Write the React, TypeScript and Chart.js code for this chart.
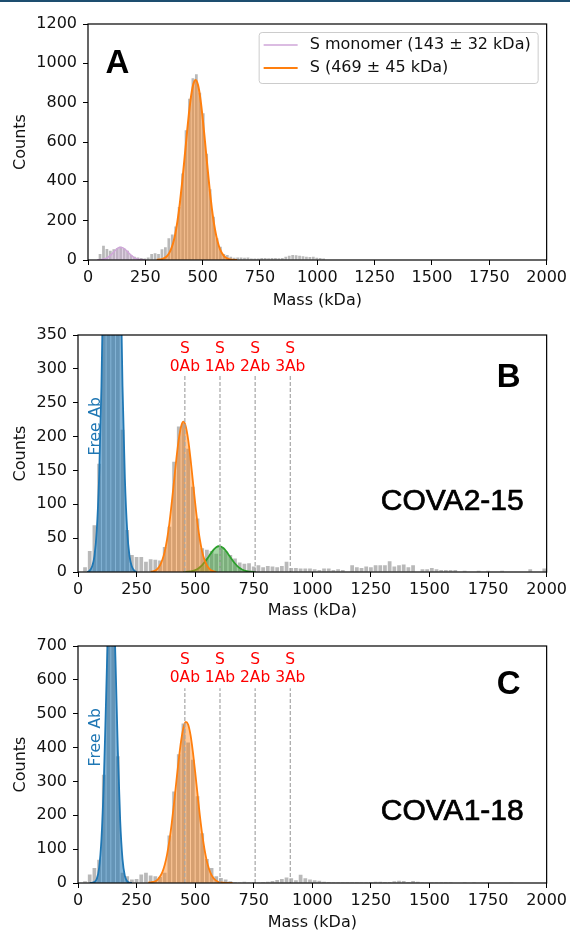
import React, { useEffect, useRef } from "react";
import { Chart, registerables } from "chart.js";

Chart.register(...registerables);

// ---------------- data ----------------
const massMin = 0;
const massMax = 2000;
const massTickStep = 250;

// Panel A : histogram, 15 kDa bins (first bin centre 7.5 kDa)
const binStartA = 7.5;
const binWidthA = 15;
const countsA = [
  0, 0, 0, 30, 73, 56, 47, 55, 60, 68, 58, 47, 25, 17, 13, 10, 8, 13, 30, 34,
  30, 55, 65, 110, 130, 170, 270, 440, 660, 820, 924, 944, 850, 746, 540, 360, 220, 110, 68, 30,
  25, 17, 12, 13, 13, 12, 13, 8, 7, 8, 10, 10, 9, 10, 10, 9, 10, 17, 22, 25,
  24, 22, 19, 17, 15, 17, 12, 10, 7, 3, 0, 0, 0, 0, 0, 0, 0, 0, 0, 0,
  0, 3, 0, 0, 0, 0, 0, 0, 0, 0, 0, 3, 0, 0, 0, 0, 3,
];
// Panel A fits (10 kDa sampling)
const monomerFitStartA = 40;
const monomerFitA = [0, 1, 2, 5, 9, 17, 26, 38, 50, 60, 65, 63, 56, 46, 33, 22, 13, 7, 4, 2, 1, 0];
const trimerFitStartA = 300;
const trimerFitA = [
  1, 2, 4, 8, 15, 28, 49, 81, 129, 196, 283, 388, 506, 628, 743, 837, 897, 915, 888, 821,
  722, 604, 482, 365, 263, 181, 119, 74, 44, 25, 13, 7, 3, 1, 0.5, 0,
];
const legendLabelsA = ["S monomer (143 \u00b1 32 kDa)", "S (469 \u00b1 45 kDa)"];

// Panel B : histogram, 20 kDa bins (first bin centre 10 kDa)
const binStartB = 10;
const binWidthB = 20;
const countsB = [
  0, 7, 31, 69, 160, 520, 1000, 1080, 760, 210, 62, 25, 22, 22, 15, 19, 18, 17, 37, 67,
  163, 215, 220, 182, 126, 79, 35, 33, 31, 27, 36, 31, 25, 20, 14, 12, 13, 8, 10, 7,
  9, 8, 7, 9, 15, 6, 6, 5, 5, 5, 4, 3, 5, 5, 3, 4, 3, 0, 10, 7,
  6, 8, 7, 10, 10, 10, 16, 8, 10, 11, 7, 10, 0, 4, 4, 6, 4, 3, 3, 3,
  3, 0, 2, 0, 0, 2, 0, 2, 0, 0, 2, 0, 0, 0, 0, 0, 4, 0, 0, 5,
];
const freeAbFitStartB = 40;
const freeAbFitB = [0, 2, 8, 23, 61, 139, 274, 475, 716, 943, 1081, 1081, 943, 716, 475, 274, 139, 61, 23, 8, 2, 0];
const s0FitStartB = 310;
const s0FitB = [
  0.5, 1, 2, 5, 10, 18, 30, 48, 72, 102, 135, 168, 196, 215, 222, 215, 196, 168, 135, 102,
  72, 48, 30, 18, 10, 5, 2, 1, 0,
];
const s1FitStartB = 450;
const s1FitB = [
  0, 0.2, 0.5, 0.9, 1.6, 2.8, 4.5, 7, 10.2, 14.3, 19, 24, 29, 33.3, 36.5, 38, 37.5, 35.4, 31.7, 27,
  22, 17, 12.5, 8.8, 5.9, 3.7, 2.2, 1.3, 0.7, 0.4, 0.2, 0,
];

// Panel C : histogram, 20 kDa bins (first bin centre 10 kDa)
const binStartC = 10;
const binWidthC = 20;
const countsC = [
  0, 5, 25, 44, 69, 320, 900, 880, 374, 30, 20, 10, 12, 25, 30, 22, 20, 18, 30, 140,
  270, 380, 471, 415, 364, 256, 147, 71, 44, 20, 15, 10, 5, 3, 2, 4, 2, 3, 2, 3,
  4, 6, 9, 12, 16, 14, 8, 24, 14, 10, 8, 7, 4, 3, 2, 2, 1, 2, 1, 2,
  2, 2, 3, 4, 4, 3, 3, 5, 7, 6, 3, 6, 4, 2, 2, 2, 1, 1, 2, 2,
  0, 0, 2, 0, 1, 0, 0, 1, 0, 0, 0, 0, 2, 0, 0, 0, 0, 0, 0, 0,
];
const freeAbFitStartC = 50;
const freeAbFitC = [0, 0.5, 3, 12, 44, 129, 297, 549, 807, 945, 883, 658, 391, 185, 70, 21, 5, 1, 0];
const s0FitStartC = 300;
const s0FitC = [
  1, 2, 3, 5, 10, 19, 32, 53, 84, 125, 176, 237, 302, 365, 420, 459, 476, 468, 438, 389,
  328, 263, 200, 144, 99, 64, 40, 23, 13, 7, 3, 1.5, 0.7, 0.3, 0, 0, 0,
];

// complex positions (kDa) and labels for panels B, C
const complexMasses = [456, 606, 756, 906];
const complexLabels = ["0Ab", "1Ab", "2Ab", "3Ab"];
const fitStep = 10;

// ---------------- styling ----------------
const FONT = "DejaVu Sans";
const TXT = "#111";
const GRAY_BAR = "rgba(128,128,128,0.55)";
const BLUE = "#1f77b4";
const BLUE_FILL = "rgba(31,119,180,0.55)";
const ORANGE = "#ff7f0e";
const ORANGE_FILL = "rgba(255,127,14,0.42)";
const GREEN = "#2ca02c";
const GREEN_FILL = "rgba(44,160,44,0.42)";
const LILAC = "#cfa6d9";
const LILAC_FILL = "rgba(207,166,217,0.35)";

type Label = {
  text: string;
  x: number;
  y: number;
  xIn: "data" | "axes";
  yIn: "data" | "axes";
  font: string;
  color: string;
  align: CanvasTextAlign;
  rotate?: number;
  heavy?: number;
};

type LegendSpec = {
  entries: { text: string; color: string; width: number }[];
};

function histDataset(start: number, width: number, counts: number[]) {
  return {
    type: "bar",
    data: counts.map((c, i) => ({ x: start + i * width, y: c })),
    backgroundColor: GRAY_BAR,
    borderWidth: 0,
    barPercentage: 0.8,
    categoryPercentage: 1,
    order: 10,
    clip: 0,
  };
}

function fitDataset(start: number, values: number[], color: string, fill: string, width = 1.8) {
  return {
    type: "line",
    data: values.map((v, i) => ({ x: start + i * fitStep, y: v })),
    borderColor: color,
    backgroundColor: fill,
    borderWidth: width,
    fill: "origin",
    pointRadius: 0,
    cubicInterpolationMode: "monotone",
    order: 5,
    clip: 0,
  };
}

function dashDataset(x: number, top: number) {
  return {
    type: "line",
    data: [
      { x, y: 0 },
      { x, y: top },
    ],
    borderColor: "#a6a6a6",
    borderWidth: 1.2,
    borderDash: [4, 2],
    fill: false,
    pointRadius: 0,
    order: 1,
    clip: 0,
  };
}

function overlayPlugin(labels: Label[], legend?: LegendSpec) {
  return {
    id: "overlay",
    afterDatasetsDraw(chart: any) {
      const { ctx, chartArea: a, scales } = chart;
      const w = a.right - a.left;
      const h = a.bottom - a.top;
      const px = (l: Label) => (l.xIn === "data" ? scales.x.getPixelForValue(l.x) : a.left + l.x * w);
      const py = (l: Label) => (l.yIn === "data" ? scales.y.getPixelForValue(l.y) : a.bottom - l.y * h);
      ctx.save();
      ctx.strokeStyle = "#000";
      ctx.lineWidth = 1.2;
      ctx.strokeRect(a.left, a.top, w, h);
      for (const l of labels) {
        ctx.save();
        ctx.translate(px(l), py(l));
        if (l.rotate) ctx.rotate((l.rotate * Math.PI) / 180);
        ctx.font = l.font;
        ctx.fillStyle = l.color;
        ctx.textAlign = l.align;
        ctx.textBaseline = "alphabetic";
        ctx.fillText(l.text, 0, 0);
        if (l.heavy) {
          ctx.strokeStyle = l.color;
          ctx.lineWidth = l.heavy;
          ctx.lineJoin = "round";
          ctx.strokeText(l.text, 0, 0);
        }
        ctx.restore();
      }
      if (legend) {
        const bw = 279;
        const bh = 51;
        const bx = a.right - 9 - bw;
        const by = a.top + 8;
        ctx.beginPath();
        if ((ctx as any).roundRect) (ctx as any).roundRect(bx + 0.5, by + 0.5, bw, bh, 3);
        else ctx.rect(bx + 0.5, by + 0.5, bw, bh);
        ctx.fillStyle = "rgba(255,255,255,0.85)";
        ctx.fill();
        ctx.strokeStyle = "#cccccc";
        ctx.lineWidth = 1;
        ctx.stroke();
        legend.entries.forEach((e, i) => {
          const yy = by + 13 + i * 23;
          ctx.beginPath();
          ctx.moveTo(bx + 5, yy);
          ctx.lineTo(bx + 39, yy);
          ctx.strokeStyle = e.color;
          ctx.lineWidth = e.width;
          ctx.stroke();
          ctx.font = `16px "${FONT}"`;
          ctx.fillStyle = TXT;
          ctx.textAlign = "left";
          ctx.textBaseline = "middle";
          ctx.fillText(e.text, bx + 51, yy);
        });
      }
      ctx.restore();
    },
  };
}

type PanelCfg = {
  top: number;
  height: number;
  areaLeft: number;
  areaTop: number;
  areaBottom: number;
  yMax: number;
  yStep: number;
  datasets: any[];
  labels: Label[];
  legend?: LegendSpec;
};

function buildConfig(p: PanelCfg): any {
  const tickFont = { family: FONT, size: 16 };
  const grid = {
    display: true,
    drawOnChartArea: false,
    drawTicks: true,
    tickLength: 5,
    color: "#000",
    lineWidth: 1,
    offset: false,
  };
  return {
    type: "bar",
    data: { datasets: p.datasets },
    options: {
      responsive: false,
      animation: false,
      devicePixelRatio: 1,
      events: [],
      layout: { padding: { top: p.areaTop, right: 23, bottom: 0, left: 0 } },
      plugins: { legend: { display: false }, tooltip: { enabled: false } },
      scales: {
        x: {
          type: "linear",
          min: massMin,
          max: massMax,
          offset: false,
          grid,
          border: { display: false },
          ticks: {
            stepSize: massTickStep,
            autoSkip: false,
            maxRotation: 0,
            color: TXT,
            font: tickFont,
            padding: 3,
            callback: (v: number) => String(v),
          },
          title: {
            display: true,
            text: "Mass (kDa)",
            color: TXT,
            font: tickFont,
            padding: { top: 0, bottom: 0 },
          },
          afterFit: (s: any) => {
            s.height = p.height - p.areaBottom;
          },
        },
        y: {
          type: "linear",
          min: 0,
          max: p.yMax,
          grid,
          border: { display: false },
          ticks: {
            stepSize: p.yStep,
            color: TXT,
            font: tickFont,
            padding: 6,
            callback: (v: number) => String(v),
          },
          title: {
            display: true,
            text: "Counts",
            color: TXT,
            font: tickFont,
            padding: { top: 11, bottom: 0 },
          },
          afterFit: (s: any) => {
            s.width = p.areaLeft;
          },
        },
      },
    },
    plugins: [overlayPlugin(p.labels, p.legend)],
  };
}

function complexLabelsFor(sY: number, abY: number): Label[] {
  const out: Label[] = [];
  complexMasses.forEach((m, i) => {
    out.push({ text: "S", x: m, y: sY, xIn: "data", yIn: "axes", font: `15.5px "${FONT}"`, color: "#ff0000", align: "center" });
    out.push({ text: complexLabels[i], x: m, y: abY, xIn: "data", yIn: "axes", font: `15.5px "${FONT}"`, color: "#ff0000", align: "center" });
  });
  return out;
}

const panelA: PanelCfg = {
  top: 0,
  height: 310,
  areaLeft: 88,
  areaTop: 24,
  areaBottom: 260,
  yMax: 1200,
  yStep: 200,
  datasets: [
    histDataset(binStartA, binWidthA, countsA),
    fitDataset(monomerFitStartA, monomerFitA, LILAC, LILAC_FILL, 1.5),
    fitDataset(trimerFitStartA, trimerFitA, ORANGE, ORANGE_FILL, 2),
  ],
  labels: [
    { text: "A", x: 0.038, y: 0.791, xIn: "axes", yIn: "axes", font: `bold 33px "Liberation Sans"`, color: "#000", align: "left" },
  ],
  legend: {
    entries: [
      { text: legendLabelsA[0], color: LILAC, width: 1.5 },
      { text: legendLabelsA[1], color: ORANGE, width: 2 },
    ],
  },
};

const panelB: PanelCfg = {
  top: 310,
  height: 310,
  areaLeft: 78,
  areaTop: 25,
  areaBottom: 262,
  yMax: 350,
  yStep: 50,
  datasets: [
    histDataset(binStartB, binWidthB, countsB),
    fitDataset(freeAbFitStartB, freeAbFitB, BLUE, BLUE_FILL),
    fitDataset(s0FitStartB, s0FitB, ORANGE, ORANGE_FILL),
    fitDataset(s1FitStartB, s1FitB, GREEN, GREEN_FILL),
    ...complexMasses.map((m) => dashDataset(m, 291)),
  ],
  labels: [
    { text: "B", x: 0.9446, y: 0.78, xIn: "axes", yIn: "axes", font: `bold 33px "Liberation Sans"`, color: "#000", align: "right" },
    { text: "COVA2-15", x: 0.951, y: 0.262, xIn: "axes", yIn: "axes", font: `30px "Liberation Sans"`, color: "#000", align: "right", heavy: 0.7 },
    { text: "Free Ab", x: 94, y: 0.615, xIn: "data", yIn: "axes", font: `15.5px "${FONT}"`, color: BLUE, align: "center", rotate: -90 },
    ...complexLabelsFor(0.926, 0.848),
  ],
};

const panelC: PanelCfg = {
  top: 620,
  height: 312,
  areaLeft: 78,
  areaTop: 26,
  areaBottom: 263,
  yMax: 700,
  yStep: 100,
  datasets: [
    histDataset(binStartC, binWidthC, countsC),
    fitDataset(freeAbFitStartC, freeAbFitC, BLUE, BLUE_FILL),
    fitDataset(s0FitStartC, s0FitC, ORANGE, ORANGE_FILL),
    ...complexMasses.map((m) => dashDataset(m, 575)),
  ],
  labels: [
    { text: "C", x: 0.9446, y: 0.797, xIn: "axes", yIn: "axes", font: `bold 33px "Liberation Sans"`, color: "#000", align: "right" },
    { text: "COVA1-18", x: 0.951, y: 0.266, xIn: "axes", yIn: "axes", font: `30px "Liberation Sans"`, color: "#000", align: "right", heavy: 0.7 },
    { text: "Free Ab", x: 94, y: 0.615, xIn: "data", yIn: "axes", font: `15.5px "${FONT}"`, color: BLUE, align: "center", rotate: -90 },
    ...complexLabelsFor(0.924, 0.846),
  ],
};

function Panel({ cfg }: { cfg: PanelCfg }) {
  const ref = useRef<HTMLCanvasElement>(null);
  useEffect(() => {
    if (!ref.current) return;
    const chart = new Chart(ref.current, buildConfig(cfg));
    return () => chart.destroy();
  }, [cfg]);
  return (
    <canvas
      ref={ref}
      width={570}
      height={cfg.height}
      style={{ position: "absolute", left: 0, top: cfg.top, width: 570, height: cfg.height, display: "block" }}
    />
  );
}

export default function App() {
  return (
    <div style={{ position: "absolute", left: 0, top: 0, width: 570, height: 932, background: "#fff", overflow: "hidden" }}>
      <Panel cfg={panelA} />
      <Panel cfg={panelB} />
      <Panel cfg={panelC} />
      <div style={{ position: "absolute", left: 0, top: 0, width: 570, height: 2, background: "#1d4d6f" }} />
    </div>
  );
}
